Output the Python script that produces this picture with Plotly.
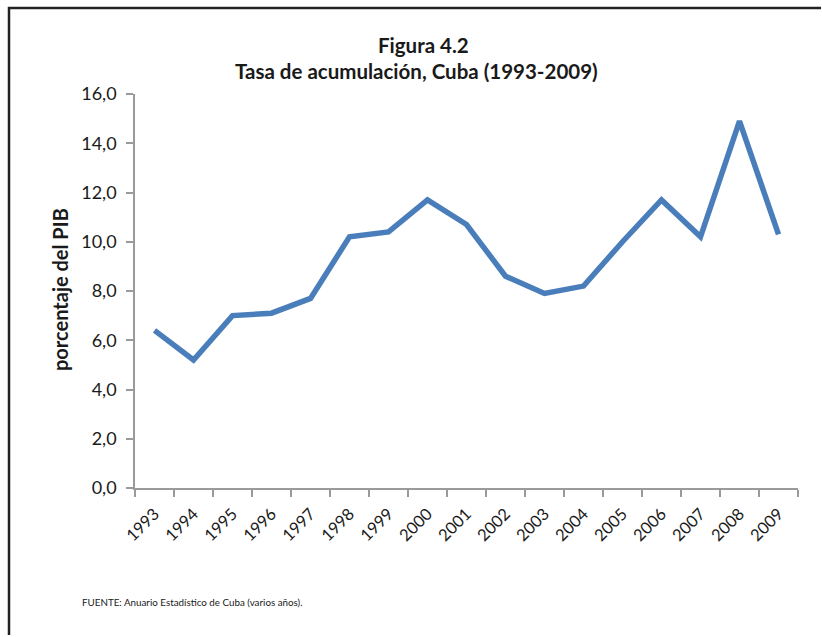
import plotly.graph_objects as go

# Tasa de acumulación (porcentaje del PIB), Cuba 1993-2009
years = ["1993", "1994", "1995", "1996", "1997", "1998", "1999", "2000", "2001",
         "2002", "2003", "2004", "2005", "2006", "2007", "2008", "2009"]
tasa = [6.4, 5.2, 7.0, 7.1, 7.7, 10.2, 10.4, 11.7, 10.7,
        8.6, 7.9, 8.2, 10.0, 11.7, 10.2, 14.9, 10.3]

y_ticks = [0, 2, 4, 6, 8, 10, 12, 14, 16]
y_labels = ["0,0", "2,0", "4,0", "6,0", "8,0", "10,0", "12,0", "14,0", "16,0"]

FONT = "Lato"
TEXT = "#1a1a1a"
AXIS = "#9a9a9a"

fig = go.Figure()
fig.add_trace(go.Scatter(
    x=years, y=tasa, mode="lines",
    line=dict(color="#4a7ebb", width=5.5),
    hoverinfo="skip",
))

W, H = 822, 637
L, R, T, B = 135, 24, 94, 149
pw, ph = W - L - R, H - T - B


def px_x(px):
    return (px - L) / pw


def px_y(py):
    return 1 - (py - T) / ph


fig.update_layout(
    width=W, height=H,
    margin=dict(l=L, r=R, t=T, b=B),
    paper_bgcolor="white", plot_bgcolor="white",
    showlegend=False,
    font=dict(family=FONT, color=TEXT),
    xaxis=dict(
        type="category", range=[-0.5, 16.5],
        tickson="boundaries", ticks="outside", ticklen=7, tickwidth=1.5,
        tickcolor=AXIS, showline=True, linecolor=AXIS, linewidth=1.5,
        showgrid=False, zeroline=False, tickangle=-45,
        ticklabelstandoff=8,
        tickfont=dict(size=16.5, color=TEXT, family=FONT),
    ),
    yaxis=dict(
        range=[0, 16], tickvals=y_ticks, ticktext=y_labels,
        ticks="outside", ticklen=7, tickwidth=1.5, tickcolor=AXIS,
        showline=True, linecolor=AXIS, linewidth=1.5,
        showgrid=False, zeroline=False, ticklabelstandoff=6,
        tickfont=dict(size=18, color=TEXT, family=FONT),
    ),
)

# Titles
fig.add_annotation(text="<b>Figura 4.2</b>", xref="paper", yref="paper",
                   x=px_x(423), y=px_y(45), showarrow=False,
                   font=dict(size=20.5, color=TEXT, family=FONT),
                   xanchor="center", yanchor="middle")
fig.add_annotation(text="<b>Tasa de acumulación, Cuba (1993-2009)</b>",
                   xref="paper", yref="paper",
                   x=px_x(416), y=px_y(71), showarrow=False,
                   font=dict(size=20.5, color=TEXT, family=FONT),
                   xanchor="center", yanchor="middle")

# Y-axis title
fig.add_annotation(text="<b>porcentaje del PIB</b>", xref="paper", yref="paper",
                   x=px_x(60), y=px_y(290), showarrow=False, textangle=-90,
                   font=dict(size=20, color=TEXT, family=FONT),
                   xanchor="center", yanchor="middle")

# Source note
fig.add_annotation(text="FUENTE: Anuario Estadístico de Cuba (varios años).",
                   xref="paper", yref="paper",
                   x=px_x(80), y=px_y(602), showarrow=False,
                   font=dict(size=9.8, color=TEXT, family=FONT),
                   xanchor="left", yanchor="middle")

# Frame lines (top and left) as one open path
x_left, x_right = px_x(9), px_x(W - 1)
y_top, y_bottom = px_y(8), px_y(H - 2)
fig.add_shape(type="path", xref="paper", yref="paper",
              path=f"M {x_left} {y_bottom} L {x_left} {y_top} L {x_right} {y_top}",
              line=dict(color="#222222", width=2.5),
              fillcolor="rgba(0,0,0,0)")

fig.write_html("out.html", config={"displayModeBar": False})
